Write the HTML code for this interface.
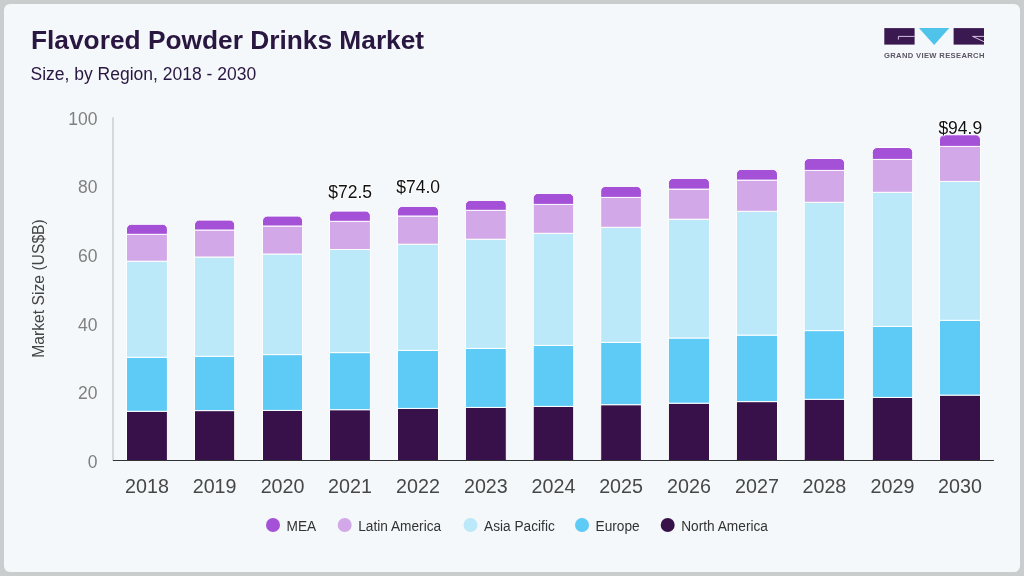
<!DOCTYPE html>
<html><head><meta charset="utf-8"><style>
html,body{margin:0;padding:0;}
body{width:1024px;height:576px;overflow:hidden;background:#cacdce;position:relative;font-family:"Liberation Sans",sans-serif;}
.card{position:absolute;left:4px;top:4px;width:1016px;height:568px;border-radius:6px;background:#f4f8fa;}
svg{position:absolute;left:0;top:0;will-change:transform;}
text{font-family:"Liberation Sans",sans-serif;}
.title{font-size:26.3px;font-weight:bold;fill:#2a1741;}
.sub{font-size:17.5px;fill:#2a1741;}
.yl{font-size:17.5px;fill:#808080;text-anchor:end;}
.xl{font-size:19.7px;fill:#474747;text-anchor:middle;}
.dl{font-size:17.5px;fill:#111;text-anchor:middle;stroke:#fff;stroke-width:1.6px;paint-order:stroke;stroke-linejoin:round;}
.lg{font-size:15px;fill:#333;}
.yt{font-size:15.7px;fill:#444;text-anchor:middle;}
.logo{font-size:7.6px;font-weight:bold;fill:#5b5566;letter-spacing:0.35px;}
</style></head><body>
<div class="card"></div>
<svg width="1024" height="576" viewBox="0 0 1024 576">
<text x="31" y="49" class="title">Flavored Powder Drinks Market</text>
<text x="30.5" y="79.5" class="sub">Size, by Region, 2018 - 2030</text>
<!-- logo -->
<rect x="884.3" y="28.1" width="30.3" height="16.5" fill="#3a1850"/>
<path d="M898.4,39.6 V36.4 H914.6" fill="none" stroke="#e6d5ee" stroke-width="0.9"/>
<path d="M918.9,28.1 H949.3 L934.2,45 Z" fill="#4fc3ea"/>
<rect x="953.6" y="28.1" width="30.4" height="16.5" fill="#3a1850"/>
<path d="M984,36.4 H972.6 L984,41.7" fill="none" stroke="#e6d5ee" stroke-width="0.9"/>
<text x="884" y="57.6" class="logo">GRAND VIEW RESEARCH</text>
<!-- axes -->
<rect x="112.3" y="117.2" width="1.4" height="343" fill="#c9cccf"/>
<text x="97.5" y="467.90" class="yl">0</text>
<text x="97.5" y="399.24" class="yl">20</text>
<text x="97.5" y="330.58" class="yl">40</text>
<text x="97.5" y="261.92" class="yl">60</text>
<text x="97.5" y="193.26" class="yl">80</text>
<text x="97.5" y="124.60" class="yl">100</text>
<text transform="translate(43.5,288.5) rotate(-90)" x="0" y="0" class="yt">Market Size (US$B)</text>
<rect x="126.50" y="411.30" width="40.90" height="48.70" fill="#38114a" stroke="#fff" stroke-width="1"/>
<rect x="126.50" y="357.30" width="40.90" height="54.00" fill="#5ecaf6" stroke="#fff" stroke-width="1"/>
<rect x="126.50" y="261.20" width="40.90" height="96.10" fill="#bce9f9" stroke="#fff" stroke-width="1"/>
<rect x="126.50" y="234.30" width="40.90" height="26.90" fill="#d3a8e8" stroke="#fff" stroke-width="1"/>
<path d="M126.50,234.30 V229.10 A4.8,4.8 0 0 1 131.30,224.30 H162.60 A4.8,4.8 0 0 1 167.40,229.10 V234.30 Z" fill="#a451d7" stroke="#fff" stroke-width="1"/>
<rect x="127.00" y="459" width="39.90" height="1.2" fill="#38114a"/>
<text x="146.95" y="492.8" class="xl">2018</text>
<rect x="194.50" y="410.60" width="40.20" height="49.40" fill="#38114a" stroke="#fff" stroke-width="1"/>
<rect x="194.50" y="356.30" width="40.20" height="54.30" fill="#5ecaf6" stroke="#fff" stroke-width="1"/>
<rect x="194.50" y="257.00" width="40.20" height="99.30" fill="#bce9f9" stroke="#fff" stroke-width="1"/>
<rect x="194.50" y="230.00" width="40.20" height="27.00" fill="#d3a8e8" stroke="#fff" stroke-width="1"/>
<path d="M194.50,230.00 V224.90 A4.8,4.8 0 0 1 199.30,220.10 H229.90 A4.8,4.8 0 0 1 234.70,224.90 V230.00 Z" fill="#a451d7" stroke="#fff" stroke-width="1"/>
<rect x="195.00" y="459" width="39.20" height="1.2" fill="#38114a"/>
<text x="214.60" y="492.8" class="xl">2019</text>
<rect x="262.50" y="410.40" width="40.10" height="49.60" fill="#38114a" stroke="#fff" stroke-width="1"/>
<rect x="262.50" y="354.60" width="40.10" height="55.80" fill="#5ecaf6" stroke="#fff" stroke-width="1"/>
<rect x="262.50" y="254.00" width="40.10" height="100.60" fill="#bce9f9" stroke="#fff" stroke-width="1"/>
<rect x="262.50" y="226.00" width="40.10" height="28.00" fill="#d3a8e8" stroke="#fff" stroke-width="1"/>
<path d="M262.50,226.00 V220.90 A4.8,4.8 0 0 1 267.30,216.10 H297.80 A4.8,4.8 0 0 1 302.60,220.90 V226.00 Z" fill="#a451d7" stroke="#fff" stroke-width="1"/>
<rect x="263.00" y="459" width="39.10" height="1.2" fill="#38114a"/>
<text x="282.55" y="492.8" class="xl">2020</text>
<rect x="329.50" y="409.70" width="40.90" height="50.30" fill="#38114a" stroke="#fff" stroke-width="1"/>
<rect x="329.50" y="352.60" width="40.90" height="57.10" fill="#5ecaf6" stroke="#fff" stroke-width="1"/>
<rect x="329.50" y="249.50" width="40.90" height="103.10" fill="#bce9f9" stroke="#fff" stroke-width="1"/>
<rect x="329.50" y="221.30" width="40.90" height="28.20" fill="#d3a8e8" stroke="#fff" stroke-width="1"/>
<path d="M329.50,221.30 V215.90 A4.8,4.8 0 0 1 334.30,211.10 H365.60 A4.8,4.8 0 0 1 370.40,215.90 V221.30 Z" fill="#a451d7" stroke="#fff" stroke-width="1"/>
<rect x="330.00" y="459" width="39.90" height="1.2" fill="#38114a"/>
<text x="349.95" y="492.8" class="xl">2021</text>
<rect x="397.50" y="408.40" width="41.00" height="51.60" fill="#38114a" stroke="#fff" stroke-width="1"/>
<rect x="397.50" y="350.40" width="41.00" height="58.00" fill="#5ecaf6" stroke="#fff" stroke-width="1"/>
<rect x="397.50" y="244.20" width="41.00" height="106.20" fill="#bce9f9" stroke="#fff" stroke-width="1"/>
<rect x="397.50" y="216.00" width="41.00" height="28.20" fill="#d3a8e8" stroke="#fff" stroke-width="1"/>
<path d="M397.50,216.00 V211.20 A4.8,4.8 0 0 1 402.30,206.40 H433.70 A4.8,4.8 0 0 1 438.50,211.20 V216.00 Z" fill="#a451d7" stroke="#fff" stroke-width="1"/>
<rect x="398.00" y="459" width="40.00" height="1.2" fill="#38114a"/>
<text x="418.00" y="492.8" class="xl">2022</text>
<rect x="465.40" y="407.40" width="40.90" height="52.60" fill="#38114a" stroke="#fff" stroke-width="1"/>
<rect x="465.40" y="348.40" width="40.90" height="59.00" fill="#5ecaf6" stroke="#fff" stroke-width="1"/>
<rect x="465.40" y="239.20" width="40.90" height="109.20" fill="#bce9f9" stroke="#fff" stroke-width="1"/>
<rect x="465.40" y="210.30" width="40.90" height="28.90" fill="#d3a8e8" stroke="#fff" stroke-width="1"/>
<path d="M465.40,210.30 V205.20 A4.8,4.8 0 0 1 470.20,200.40 H501.50 A4.8,4.8 0 0 1 506.30,205.20 V210.30 Z" fill="#a451d7" stroke="#fff" stroke-width="1"/>
<rect x="465.90" y="459" width="39.90" height="1.2" fill="#38114a"/>
<text x="485.85" y="492.8" class="xl">2023</text>
<rect x="533.20" y="406.40" width="40.50" height="53.60" fill="#38114a" stroke="#fff" stroke-width="1"/>
<rect x="533.20" y="345.40" width="40.50" height="61.00" fill="#5ecaf6" stroke="#fff" stroke-width="1"/>
<rect x="533.20" y="233.30" width="40.50" height="112.10" fill="#bce9f9" stroke="#fff" stroke-width="1"/>
<rect x="533.20" y="204.40" width="40.50" height="28.90" fill="#d3a8e8" stroke="#fff" stroke-width="1"/>
<path d="M533.20,204.40 V198.20 A4.8,4.8 0 0 1 538.00,193.40 H568.90 A4.8,4.8 0 0 1 573.70,198.20 V204.40 Z" fill="#a451d7" stroke="#fff" stroke-width="1"/>
<rect x="533.70" y="459" width="39.50" height="1.2" fill="#38114a"/>
<text x="553.45" y="492.8" class="xl">2024</text>
<rect x="600.70" y="404.70" width="40.70" height="55.30" fill="#38114a" stroke="#fff" stroke-width="1"/>
<rect x="600.70" y="342.40" width="40.70" height="62.30" fill="#5ecaf6" stroke="#fff" stroke-width="1"/>
<rect x="600.70" y="227.30" width="40.70" height="115.10" fill="#bce9f9" stroke="#fff" stroke-width="1"/>
<rect x="600.70" y="197.40" width="40.70" height="29.90" fill="#d3a8e8" stroke="#fff" stroke-width="1"/>
<path d="M600.70,197.40 V191.20 A4.8,4.8 0 0 1 605.50,186.40 H636.60 A4.8,4.8 0 0 1 641.40,191.20 V197.40 Z" fill="#a451d7" stroke="#fff" stroke-width="1"/>
<rect x="601.20" y="459" width="39.70" height="1.2" fill="#38114a"/>
<text x="621.05" y="492.8" class="xl">2025</text>
<rect x="668.40" y="403.20" width="41.10" height="56.80" fill="#38114a" stroke="#fff" stroke-width="1"/>
<rect x="668.40" y="338.00" width="41.10" height="65.20" fill="#5ecaf6" stroke="#fff" stroke-width="1"/>
<rect x="668.40" y="219.20" width="41.10" height="118.80" fill="#bce9f9" stroke="#fff" stroke-width="1"/>
<rect x="668.40" y="189.10" width="41.10" height="30.10" fill="#d3a8e8" stroke="#fff" stroke-width="1"/>
<path d="M668.40,189.10 V183.20 A4.8,4.8 0 0 1 673.20,178.40 H704.70 A4.8,4.8 0 0 1 709.50,183.20 V189.10 Z" fill="#a451d7" stroke="#fff" stroke-width="1"/>
<rect x="668.90" y="459" width="40.10" height="1.2" fill="#38114a"/>
<text x="688.95" y="492.8" class="xl">2026</text>
<rect x="736.40" y="401.60" width="41.10" height="58.40" fill="#38114a" stroke="#fff" stroke-width="1"/>
<rect x="736.40" y="335.10" width="41.10" height="66.50" fill="#5ecaf6" stroke="#fff" stroke-width="1"/>
<rect x="736.40" y="211.30" width="41.10" height="123.80" fill="#bce9f9" stroke="#fff" stroke-width="1"/>
<rect x="736.40" y="180.10" width="41.10" height="31.20" fill="#d3a8e8" stroke="#fff" stroke-width="1"/>
<path d="M736.40,180.10 V174.20 A4.8,4.8 0 0 1 741.20,169.40 H772.70 A4.8,4.8 0 0 1 777.50,174.20 V180.10 Z" fill="#a451d7" stroke="#fff" stroke-width="1"/>
<rect x="736.90" y="459" width="40.10" height="1.2" fill="#38114a"/>
<text x="756.95" y="492.8" class="xl">2027</text>
<rect x="804.20" y="399.30" width="40.40" height="60.70" fill="#38114a" stroke="#fff" stroke-width="1"/>
<rect x="804.20" y="330.60" width="40.40" height="68.70" fill="#5ecaf6" stroke="#fff" stroke-width="1"/>
<rect x="804.20" y="202.30" width="40.40" height="128.30" fill="#bce9f9" stroke="#fff" stroke-width="1"/>
<rect x="804.20" y="170.40" width="40.40" height="31.90" fill="#d3a8e8" stroke="#fff" stroke-width="1"/>
<path d="M804.20,170.40 V163.30 A4.8,4.8 0 0 1 809.00,158.50 H839.80 A4.8,4.8 0 0 1 844.60,163.30 V170.40 Z" fill="#a451d7" stroke="#fff" stroke-width="1"/>
<rect x="804.70" y="459" width="39.40" height="1.2" fill="#38114a"/>
<text x="824.40" y="492.8" class="xl">2028</text>
<rect x="872.30" y="397.40" width="40.40" height="62.60" fill="#38114a" stroke="#fff" stroke-width="1"/>
<rect x="872.30" y="326.40" width="40.40" height="71.00" fill="#5ecaf6" stroke="#fff" stroke-width="1"/>
<rect x="872.30" y="192.30" width="40.40" height="134.10" fill="#bce9f9" stroke="#fff" stroke-width="1"/>
<rect x="872.30" y="159.40" width="40.40" height="32.90" fill="#d3a8e8" stroke="#fff" stroke-width="1"/>
<path d="M872.30,159.40 V152.30 A4.8,4.8 0 0 1 877.10,147.50 H907.90 A4.8,4.8 0 0 1 912.70,152.30 V159.40 Z" fill="#a451d7" stroke="#fff" stroke-width="1"/>
<rect x="872.80" y="459" width="39.40" height="1.2" fill="#38114a"/>
<text x="892.50" y="492.8" class="xl">2029</text>
<rect x="939.50" y="395.10" width="41.00" height="64.90" fill="#38114a" stroke="#fff" stroke-width="1"/>
<rect x="939.50" y="320.30" width="41.00" height="74.80" fill="#5ecaf6" stroke="#fff" stroke-width="1"/>
<rect x="939.50" y="181.40" width="41.00" height="138.90" fill="#bce9f9" stroke="#fff" stroke-width="1"/>
<rect x="939.50" y="146.40" width="41.00" height="35.00" fill="#d3a8e8" stroke="#fff" stroke-width="1"/>
<path d="M939.50,146.40 V139.60 A4.8,4.8 0 0 1 944.30,134.80 H975.70 A4.8,4.8 0 0 1 980.50,139.60 V146.40 Z" fill="#a451d7" stroke="#fff" stroke-width="1"/>
<rect x="940.00" y="459" width="40.00" height="1.2" fill="#38114a"/>
<text x="960.00" y="492.8" class="xl">2030</text>
<text x="350.1" y="197.9" class="dl">$72.5</text>
<text x="418.2" y="192.7" class="dl">$74.0</text>
<text x="960.3" y="133.8" class="dl">$94.9</text>
<circle cx="273.0" cy="525" r="7" fill="#a451d7"/>
<text transform="translate(286.50,530.7) scale(0.913,1)" class="lg">MEA</text>
<circle cx="344.7" cy="525" r="7" fill="#d3a8e8"/>
<text transform="translate(358.20,530.7) scale(0.913,1)" class="lg">Latin America</text>
<circle cx="470.5" cy="525" r="7" fill="#bce9f9"/>
<text transform="translate(484.00,530.7) scale(0.913,1)" class="lg">Asia Pacific</text>
<circle cx="582.0" cy="525" r="7" fill="#5ecaf6"/>
<text transform="translate(595.50,530.7) scale(0.913,1)" class="lg">Europe</text>
<circle cx="667.7" cy="525" r="7" fill="#38114a"/>
<text transform="translate(681.20,530.7) scale(0.913,1)" class="lg">North America</text>
<rect x="112.9" y="460" width="881" height="1" fill="#333"/>
</svg>
</body></html>
